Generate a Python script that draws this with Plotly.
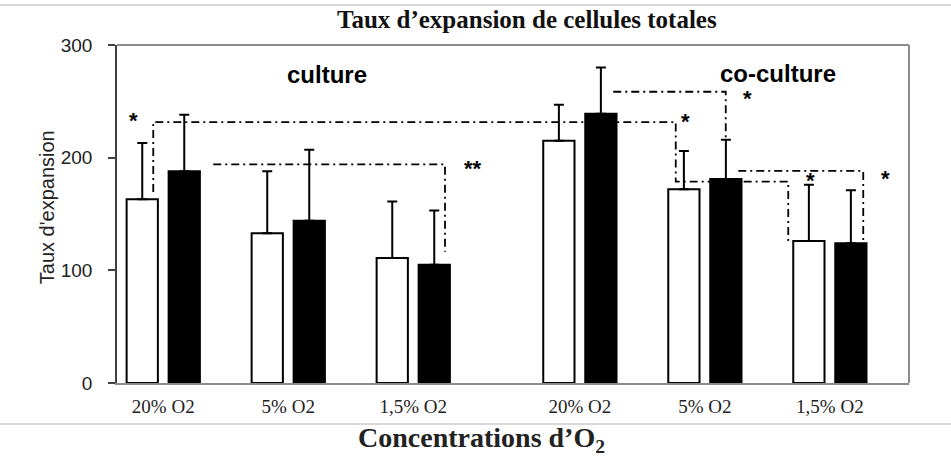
import plotly.graph_objects as go

# ---------------- data ----------------
o2_labels = ["20% O2", "5% O2", "1,5% O2"]
group_names = ["culture", "co-culture"]

culture_white = [163, 133, 111]
culture_white_err = [50, 55, 50]
culture_black = [188, 144, 105]
culture_black_err = [50, 63, 48]

coculture_white = [215, 172, 126]
coculture_white_err = [32, 34, 50]
coculture_black = [239, 181, 124]
coculture_black_err = [41, 35, 47]

# significance brackets (data coordinates) and their stars
brackets_x = [
    [-0.08, -0.08, 4.10, 4.10, 5.00, 5.00],
    [0.40, 2.254, 2.254],
    [3.60, 4.50, 4.50],
    [4.60, 5.60, 5.60],
]
brackets_y = [
    [169.5, 231.6, 231.6, 178.7, 178.7, 125.4],
    [194, 194, 116.5],
    [258.5, 258.5, 216.3],
    [188.2, 188.2, 125.4],
]
stars_x = [-0.242, 2.478, 4.174, 4.67, 5.174, 5.78]
stars_y = [236, 193, 235, 255, 182, 184]
stars_text = ["*", "**", "*", "*", "*", "*"]

# ---------------- layout helpers ----------------
GAP = 1.333          # extra spacing between the two groups
OFF = 0.168          # half distance between paired bars
BAR_W = 0.25

centers = [0, 1, 2, 2 + GAP, 3 + GAP, 4 + GAP]

white_vals = culture_white + coculture_white
white_err = culture_white_err + coculture_white_err
black_vals = culture_black + coculture_black
black_err = culture_black_err + coculture_black_err

fig = go.Figure()

fig.add_trace(go.Bar(
    x=[c - OFF for c in centers], y=white_vals, width=BAR_W,
    marker=dict(color="white", line=dict(color="black", width=2)),
    error_y=dict(type="data", symmetric=False, array=white_err,
                 arrayminus=[0] * len(white_err), color="black",
                 thickness=2, width=5),
    showlegend=False, hoverinfo="skip"))

fig.add_trace(go.Bar(
    x=[c + OFF for c in centers], y=black_vals, width=BAR_W,
    marker=dict(color="black", line=dict(color="black", width=2)),
    error_y=dict(type="data", symmetric=False, array=black_err,
                 arrayminus=[0] * len(black_err), color="black",
                 thickness=2, width=5),
    showlegend=False, hoverinfo="skip"))

for bx, by in zip(brackets_x, brackets_y):
    fig.add_trace(go.Scatter(
        x=bx, y=by, mode="lines",
        line=dict(color="black", width=1.8, dash="8px,4px,2px,4px"),
        showlegend=False, hoverinfo="skip"))

for sx, sy, st in zip(stars_x, stars_y, stars_text):
    fig.add_annotation(x=sx, y=sy, text="<b>" + st + "</b>", showarrow=False,
                       font=dict(family="Liberation Sans", size=22, color="black"),
                       xanchor="center", yanchor="middle", yshift=-3)

# group labels
fig.add_annotation(x=1.31, y=273.4, text="<b>culture</b>", showarrow=False,
                   font=dict(family="Liberation Sans", size=24, color="black"))
fig.add_annotation(x=4.914, y=274.3, text="<b>co-culture</b>", showarrow=False,
                   font=dict(family="Liberation Sans", size=24, color="black"))

# titles
fig.add_annotation(xref="paper", yref="paper", x=0.5177, y=1.0769,
                   text="<b>Taux d’expansion de cellules totales</b>",
                   showarrow=False, xanchor="center", yanchor="middle",
                   font=dict(family="Liberation Serif", size=25, color="#111"))
fig.add_annotation(xref="paper", yref="paper", x=0.4605, y=-0.1686,
                   text="<b>Concentrations d’O<sub>2</sub></b>",
                   showarrow=False, xanchor="center", yanchor="middle",
                   font=dict(family="Liberation Serif", size=28, color="#222"))
fig.add_annotation(xref="paper", yref="paper", x=-0.0884, y=0.52,
                   text="Taux d'expansion", textangle=-90,
                   showarrow=False, xanchor="center", yanchor="middle",
                   font=dict(family="Liberation Sans", size=20, color="#222"))

# frame (top & right in gray), separator lines
frame = dict(color="#8c8c8c", width=2)
fig.add_shape(type="line", xref="paper", yref="paper", x0=0, x1=1, y0=1, y1=1, line=frame)
fig.add_shape(type="line", xref="paper", yref="paper", x0=1, x1=1, y0=0, y1=1, line=frame)
sep = dict(color="#d9d9d9", width=2)
fig.add_shape(type="line", xref="paper", yref="paper", x0=-0.16, x1=1.06,
              y0=1.1183, y1=1.1183, line=sep)
fig.add_shape(type="line", xref="paper", yref="paper", x0=-0.16, x1=1.06,
              y0=-0.1213, y1=-0.1213, line=sep)

fig.update_layout(
    width=951, height=465,
    margin=dict(l=117, r=42, t=45, b=82),
    paper_bgcolor="white", plot_bgcolor="white",
    barmode="overlay",
    xaxis=dict(range=[-0.37, 5.966], tickmode="array",
               tickvals=centers, ticktext=o2_labels * 2,
               showline=True, linecolor="#8c8c8c", linewidth=2,
               showgrid=False, zeroline=False, ticks="",
               ticklabelstandoff=5,
               tickfont=dict(family="Liberation Serif", size=19, color="#222")),
    yaxis=dict(range=[0, 300], tickmode="array", tickvals=[0, 100, 200, 300],
               showline=True, linecolor="#404040", linewidth=1.5,
               ticks="outside", ticklen=7, tickcolor="#404040", tickwidth=1.5,
               showgrid=False, zeroline=False, ticklabelstandoff=12,
               tickfont=dict(family="Liberation Sans", size=19, color="#222")),
)

# remove the browser's default 8px body margin so the figure fills the window
fig.write_html("out.html",
               config={"displayModeBar": False},
               post_script="document.body.style.margin='0';"
                           "document.body.style.overflow='hidden';")
